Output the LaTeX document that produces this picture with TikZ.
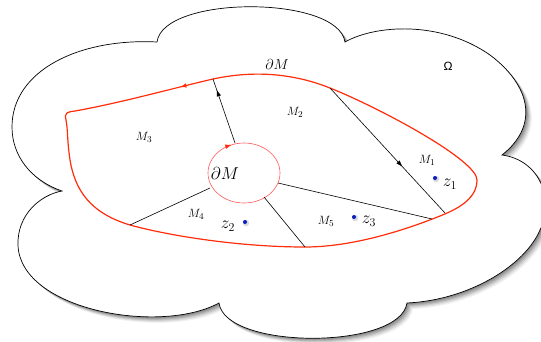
\documentclass[tikz,border=0pt]{standalone}
\usepackage{fontspec}
\newfontfamily\omegafont{Liberation Sans}
\usetikzlibrary{arrows.meta,decorations.markings}
\definecolor{outerred}{RGB}{255,45,10}
\definecolor{innerred}{RGB}{255,90,90}
\definecolor{dotblue}{RGB}{10,30,190}
\def\cloudpath{(62,191) .. controls (30,180) and (12,155) .. (12,127)
  .. controls (12,70) and (80,38) .. (157,42)
  .. controls (163,-5) and (338,-5) .. (345,42)
  .. controls (375,25) and (440,20) .. (490,55)
  .. controls (530,85) and (540,125) .. (502,155)
  .. controls (540,160) and (555,200) .. (540,230)
  .. controls (525,265) and (470,300) .. (407,303)
  .. controls (400,350) and (225,350) .. (219,303)
  .. controls (160,335) and (20,310) .. (18,245)
  .. controls (17,215) and (40,195) .. (62,191) -- cycle}
\tikzset{
  outerline/.style={draw=outerred, line width=1.2pt},
  innerline/.style={draw=innerred, line width=0.6pt},
  cut/.style={draw=black, line width=0.6pt},
  tipshape/.style={},
  midarrow/.style={postaction={decorate}, decoration={markings, mark=at position #1 with {\arrow{Latex[length=6.5pt,width=4.5pt]}}}},
  revarrow/.style={postaction={decorate}, decoration={markings, mark=at position #1 with {\arrowreversed{Latex[length=6.5pt,width=4.5pt]}}}},
  mlabel/.style={font=\fontsize{13}{15}\selectfont, inner sep=0pt},
  zlabel/.style={font=\fontsize{18}{20}\selectfont, inner sep=0pt},
  dotmark/.style={fill=dotblue, circle, inner sep=0pt, minimum size=4pt},
}
\begin{document}
\begin{tikzpicture}[x=1pt,y=-1pt]
\useasboundingbox (0,0) rectangle (541,341);
\clip (0,0) rectangle (541,341);
% cloud shadow
\foreach \s/\o in {6/0.05,5/0.07,4/0.09,3/0.11,2/0.13,1/0.13}{
  \path[fill=black, fill opacity=\o, shift={(\s,\s)}] \cloudpath;
}
\path[fill=white, draw=black, line width=0.7pt] \cloudpath;

% coordinates
\coordinate (ic) at (244,173);
\coordinate (o1) at (213,79);
\coordinate (o2) at (330,88);
\coordinate (o3) at (445,213);
\coordinate (o4) at (432,219);
\coordinate (o5) at (305,247);
\coordinate (o6) at (130,225);
\coordinate (c1) at (235,143);
\coordinate (c3) at (278,183);
\coordinate (c4) at (264,197);
\coordinate (c5) at (210,188);

% outer boundary
\draw[outerline, line join=round] (66,120) .. controls (64,112) and (68,112) .. (75,111);
\draw[outerline, revarrow=0.76] (75,111) .. controls (120,103) and (170,89) .. (o1);
\draw[outerline] (o1) .. controls (250,71) and (290,72) .. (o2)
  .. controls (380,108) and (477,160) .. (477,180)
  .. controls (477,200) and (455,210) .. (440,216)
  .. controls (400,232) and (350,247) .. (o5)
  .. controls (240,247) and (170,236) .. (o6)
  .. controls (90,213) and (75,190) .. (70,160)
  .. controls (67,140) and (68,130) .. (66,120);

% inner boundary
\draw[innerline, postaction={decorate}, decoration={markings, mark=at position 0.69 with {\arrow[outerred]{Latex[length=6.5pt,width=4.5pt]}}}]
  (280,173) arc[start angle=0, end angle=360, x radius=36, y radius=30];

% cuts
\draw[cut, midarrow=0.83] (c1) -- (o1);
\draw[cut, midarrow=0.63] (o2) -- (o3);
\draw[cut] (c3) -- (o4);
\draw[cut] (c4) -- (o5);
\draw[cut] (c5) -- (o6);

% labels
\node[font=\fontsize{15}{17}\selectfont, inner sep=0pt] (dMo) at (277,64) {$\partial M$};
\node[font=\fontsize{18}{20}\selectfont, inner sep=0pt] (dMi) at (225,173) {$\partial M$};
\node[mlabel] (m1) at (427,160) {$M_1$};
\node[mlabel] (m2) at (295,112) {$M_2$};
\node[mlabel] (m3) at (144,137) {$M_3$};
\node[mlabel] (m4) at (196,214) {$M_4$};
\node[mlabel] (m5) at (326,221) {$M_5$};
\node[zlabel] (z1) at (450,184) {$z_1$};
\node[zlabel] (z2) at (228,226) {$z_2$};
\node[zlabel] (z3) at (369,221) {$z_3$};
\foreach \n/\p in {d1/{(435,178)}, d2/{(245,222)}, d3/{(354,217)}}{
  \fill[black, opacity=0.15] \p ++(1,1) circle (3.2);
  \node[dotmark] (\n) at \p {};
}
\node[font=\omegafont\fontsize{12}{14}\selectfont, inner sep=0pt] (om) at (448,66) {Ω};
\end{tikzpicture}
\end{document}
